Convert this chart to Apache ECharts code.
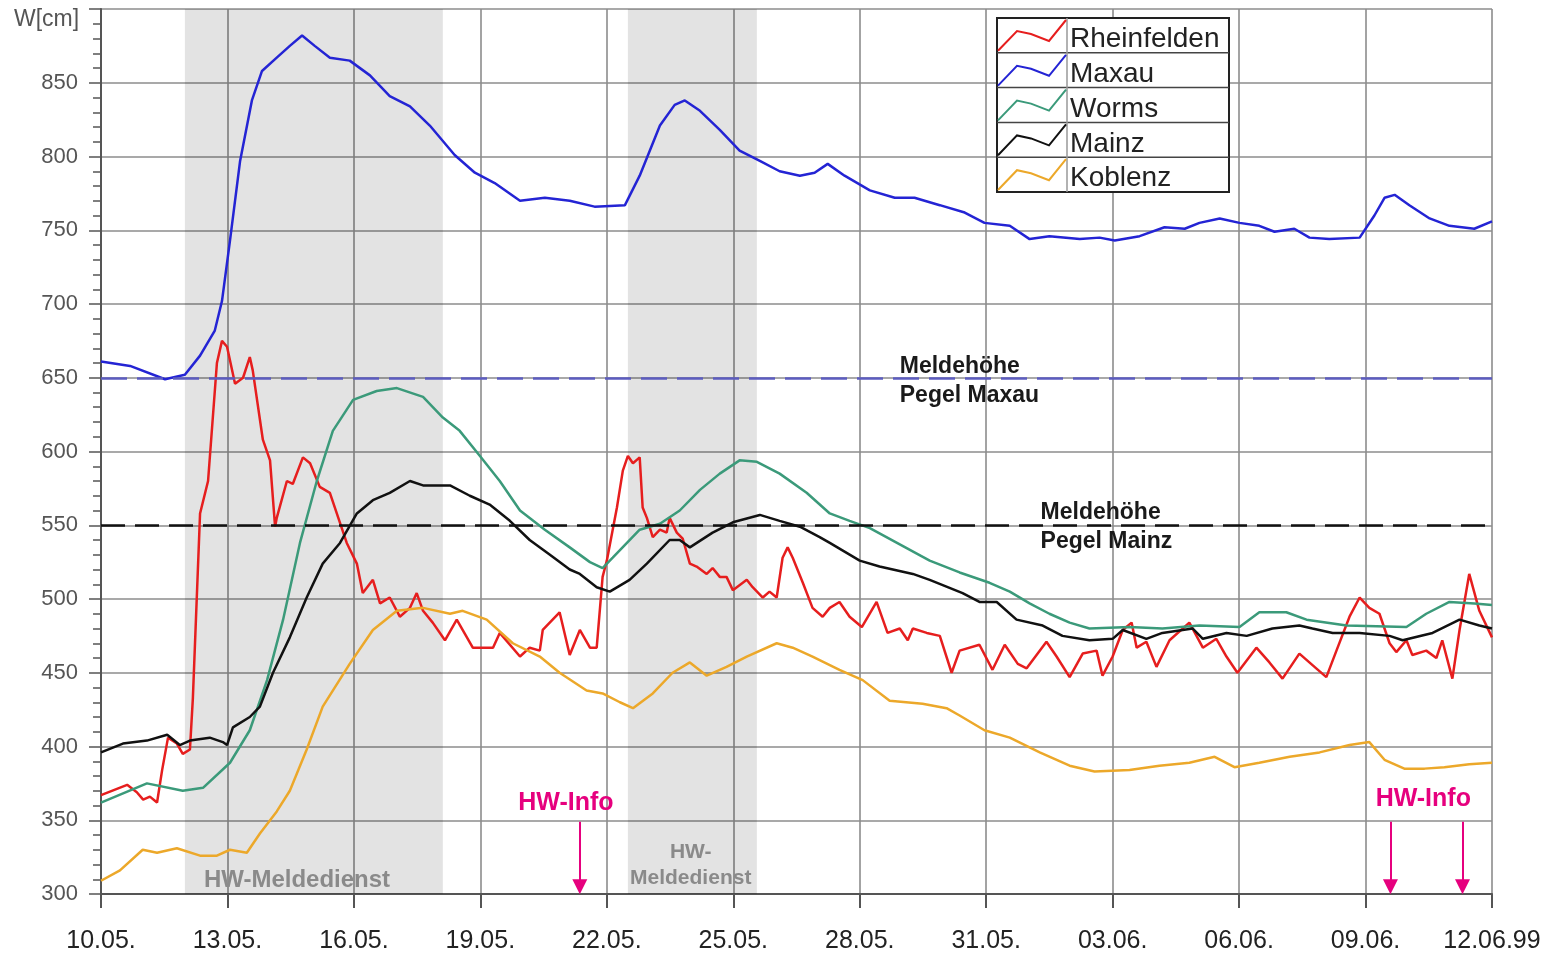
<!DOCTYPE html>
<html><head><meta charset="utf-8">
<script src="https://cdn.jsdelivr.net/npm/echarts@6/dist/echarts.min.js"></script>
<style>html,body{margin:0;padding:0;background:#fff}#c{width:1549px;height:960px}</style>
</head><body><div id="c"></div>
<script>
// ---------- data (x = days since 10.05.1999, y = W in cm) ----------
const xTickLabels = ['10.05.','13.05.','16.05.','19.05.','22.05.','25.05.','28.05.','31.05.','03.06.','06.06.','09.06.','12.06.99'];
const seriesNames = ['Rheinfelden','Maxau','Worms','Mainz','Koblenz'];

const rheinfelden = [[0,367],[0.62,374],[0.85,369],[1.00,364],[1.16,366],[1.33,362],[1.45,384],[1.59,406],[1.80,402],[1.94,395],[2.11,398],[2.18,433],[2.35,558],[2.54,580],[2.75,660],[2.87,675],[2.99,671],[3.18,646],[3.37,650],[3.53,664],[3.60,655],[3.84,608],[4.01,594],[4.13,549],[4.17,555],[4.41,580],[4.55,578],[4.79,596],[4.96,592],[5.19,576],[5.43,572],[5.83,538],[6.07,524],[6.21,504],[6.45,513],[6.62,497],[6.85,501],[7.09,488],[7.33,494],[7.49,504],[7.64,492],[7.87,484],[8.16,472],[8.44,486],[8.82,467],[9.30,467],[9.46,477],[9.94,461],[10.17,467],[10.41,465],[10.48,479],[10.88,491],[11.12,462],[11.36,479],[11.60,467],[11.76,467],[11.90,515],[12.00,526],[12.24,562],[12.38,587],[12.50,597],[12.62,592],[12.78,596],[12.85,562],[12.95,555],[13.09,542],[13.26,547],[13.42,545],[13.49,555],[13.66,545],[13.80,541],[13.97,524],[14.13,522],[14.37,517],[14.51,521],[14.68,515],[14.84,515],[14.99,506],[15.32,513],[15.46,508],[15.70,501],[15.86,505],[16.03,501],[16.17,528],[16.29,535],[16.41,528],[16.65,511],[16.88,494],[17.12,488],[17.29,494],[17.52,498],[17.76,488],[18.05,481],[18.40,498],[18.66,477],[18.95,480],[19.14,472],[19.26,480],[19.59,477],[19.90,475],[20.18,450],[20.37,465],[20.84,469],[21.15,452],[21.44,469],[21.75,456],[21.96,453],[22.43,471],[22.67,461],[22.98,447],[23.29,463],[23.62,465],[23.76,448],[24.00,461],[24.24,479],[24.45,484],[24.57,467],[24.80,471],[25.04,454],[25.35,472],[25.82,484],[26.14,467],[26.46,473],[26.70,461],[26.96,450],[27.41,467],[27.72,457],[28.03,446],[28.43,463],[28.83,453],[29.07,447],[29.31,465],[29.62,488],[29.86,501],[30.09,494],[30.33,490],[30.57,470],[30.73,464],[30.97,472],[31.11,462],[31.44,465],[31.68,460],[31.82,472],[32.06,446],[32.23,479],[32.46,517],[32.70,492],[33,474]];

const maxau = [[0,661],[0.69,658],[1.52,649],[1.99,652],[2.35,665],[2.70,682],[2.87,702],[3.06,743],[3.30,797],[3.58,838],[3.82,858],[4.13,866],[4.48,875],[4.77,882],[5.07,875],[5.43,867],[5.90,865],[6.38,855],[6.85,841],[7.33,834],[7.80,821],[8.39,801],[8.87,789],[9.34,782],[9.94,770],[10.53,772],[11.12,770],[11.71,766],[12.43,767],[12.78,787],[13.26,821],[13.61,835],[13.85,838],[14.21,831],[14.68,818],[15.15,804],[15.63,797],[16.10,790],[16.58,787],[16.93,789],[17.24,795],[17.64,787],[18.24,777],[18.83,772],[19.30,772],[19.90,767],[20.49,762],[20.96,755],[21.56,753],[22.03,744],[22.50,746],[23.22,744],[23.69,745],[24.05,743],[24.64,746],[25.23,752],[25.71,751],[26.06,755],[26.54,758],[27.01,755],[27.48,753],[27.84,749],[28.31,751],[28.67,745],[29.14,744],[29.86,745],[30.21,760],[30.45,772],[30.69,774],[31.04,767],[31.52,758],[31.99,753],[32.58,751],[33,756]];

const worms = [[0,362],[1.09,375],[1.94,370],[2.42,372],[3.06,389],[3.53,411],[3.94,445],[4.32,486],[4.72,538],[5.12,580],[5.50,614],[5.98,635],[6.54,641],[7.02,643],[7.64,637],[8.11,623],[8.51,614],[8.99,597],[9.46,580],[9.94,560],[10.53,547],[11.12,535],[11.60,525],[11.90,521],[12.14,528],[12.78,547],[13.26,551],[13.73,560],[14.21,574],[14.68,585],[15.15,594],[15.56,593],[16.10,585],[16.74,572],[17.29,558],[17.76,553],[18.24,548],[18.95,537],[19.66,526],[20.37,518],[21.08,511],[21.56,505],[22.03,497],[22.50,490],[22.98,484],[23.45,480],[24.40,481],[25.18,480],[26.06,482],[27.01,481],[27.48,491],[28.12,491],[28.60,486],[29.55,482],[30.97,481],[31.44,490],[31.99,498],[32.58,497],[33,496]];

const mainz = [[0,396],[0.52,402],[1.09,404],[1.57,408],[1.87,401],[2.11,404],[2.58,406],[2.89,403],[2.99,401],[3.13,413],[3.53,420],[3.77,427],[4.08,450],[4.48,474],[4.88,501],[5.26,524],[5.67,538],[6.07,558],[6.45,567],[6.85,572],[7.33,580],[7.64,577],[8.28,577],[8.75,570],[9.22,564],[9.70,553],[10.17,540],[10.65,530],[11.12,520],[11.36,517],[11.76,508],[12.07,505],[12.54,513],[12.95,524],[13.49,540],[13.73,540],[13.97,535],[14.51,545],[14.99,552],[15.63,557],[16.10,553],[16.58,549],[17.05,542],[17.29,538],[18.00,526],[18.47,522],[19.26,517],[19.66,513],[20.44,504],[20.84,498],[21.25,498],[21.72,486],[22.34,482],[22.81,475],[23.45,472],[24.00,473],[24.24,479],[24.80,473],[25.18,477],[25.90,480],[26.14,473],[26.70,477],[27.18,475],[27.79,480],[28.43,482],[28.74,480],[29.22,477],[29.86,477],[30.57,475],[30.88,472],[31.59,477],[32.23,486],[32.70,482],[33,480]];

const koblenz = [[0,309],[0.45,316],[0.99,330],[1.33,328],[1.80,331],[2.35,326],[2.75,326],[3.06,330],[3.46,328],[3.77,341],[4.17,356],[4.48,370],[4.88,398],[5.26,427],[5.90,456],[6.45,479],[7.02,492],[7.64,494],[8.28,490],[8.58,492],[9.15,486],[9.77,470],[10.41,461],[10.88,450],[11.52,438],[11.90,436],[12.31,430],[12.62,426],[13.09,436],[13.56,450],[13.97,457],[14.37,448],[14.84,454],[15.32,461],[16.03,470],[16.41,467],[16.88,461],[17.52,452],[18.07,445],[18.71,431],[19.49,429],[20.06,426],[20.37,421],[20.96,411],[21.56,406],[22.27,396],[22.98,387],[23.57,383],[24.40,384],[25.11,387],[25.82,389],[26.42,393],[26.89,386],[27.48,389],[28.20,393],[28.91,396],[29.62,401],[30.09,403],[30.45,391],[30.92,385],[31.40,385],[31.87,386],[32.46,388],[33,389]];

const meldeMaxau = 650;
const meldeMainz = 550;
const hwMeldedienstSpans = [[1.99, 8.11], [12.50, 15.56]];
const hwInfoDays = [11.36, 30.59, 32.30];
const annotations = [
  {text:'Meldehöhe\nPegel Maxau', day:18.95, value:648, kind:'melde'},
  {text:'Meldehöhe\nPegel Mainz', day:22.29, value:549, kind:'melde'},
  {text:'HW-Meldedienst', day:4.65, value:309.5, kind:'grey'},
  {text:'HW-\nMeldedienst', day:13.99, value:319.6, kind:'grey2'},
  {text:'HW-Info', day:11.03, value:361.6, kind:'info'},
  {text:'HW-Info', day:31.37, value:364, kind:'info'}
];

// ---------- styling ----------
const FONT = 'Liberation Sans, Arial, Helvetica, sans-serif';
const colors = ['#e61e1e','#2424d4','#3b9a7a','#111111','#eca82a'];
const seriesData = [rheinfelden, maxau, worms, mainz, koblenz];
const labelStyles = {
  melde: {position:'right', distance:0, align:'left', verticalAlign:'middle', fontSize:23, fontWeight:'bold', color:'#1a1a1a', lineHeight:29},
  grey:  {position:'inside', align:'center', verticalAlign:'middle', fontSize:24, fontWeight:'bold', color:'#8a8a8a'},
  grey2: {position:'inside', align:'center', verticalAlign:'middle', fontSize:21, fontWeight:'bold', color:'#8a8a8a', lineHeight:26},
  info:  {position:'inside', align:'center', verticalAlign:'middle', fontSize:25, fontWeight:'bold', color:'#e6007e'}
};

const chart = echarts.init(document.getElementById('c'), null, {renderer:'canvas'});

const series = [];
series.push({
  type:'line', name:'shade', data:[], z:1, silent:true,
  markArea:{silent:true, itemStyle:{color:'rgba(0,0,0,0.11)'},
    data: hwMeldedienstSpans.map(s => [{xAxis:s[0]},{xAxis:s[1]}])}
});
seriesNames.forEach((n,i) => {
  const s = {type:'line', name:n, data:seriesData[i], showSymbol:false, z:3,
    lineStyle:{color:colors[i], width:2.5}, itemStyle:{color:colors[i]}};
  if (n === 'Maxau') s.markLine = {silent:true, symbol:['none','none'], label:{show:false},
      lineStyle:{color:'#5c5cc0', width:2.5, type:[26,10]}, data:[{yAxis:meldeMaxau}]};
  if (n === 'Mainz') s.markLine = {silent:true, symbol:['none','none'], label:{show:false},
      lineStyle:{color:'#111', width:2.5, type:[24,10]}, data:[{yAxis:meldeMainz}]};
  series.push(s);
});
series.push({
  type:'scatter', name:'annot', symbolSize:0, z:5, silent:true,
  itemStyle:{opacity:1},
  data: annotations.map(a => ({value:[a.day, a.value],
    label:Object.assign({show:true, formatter:a.text, fontFamily:FONT, opacity:1}, labelStyles[a.kind])})),
  markLine:{silent:true, symbol:['none','triangle'], symbolSize:15, label:{show:false},
    lineStyle:{color:'#e6007e', width:2, type:'solid', opacity:1}, itemStyle:{color:'#e6007e'},
    data: hwInfoDays.map(d => [{coord:[d, 349]},{coord:[d, 305]}])}
});

const LX=997, LY=18, LW=232, RH=34.8, IW=70;
const graphic = [
  {type:'text', left:14, top:8, style:{text:'W[cm]', font:'23px '+FONT, fill:'#555'}},
  {type:'rect', z:100, shape:{x:LX,y:LY,width:LW,height:RH*5}, style:{fill:'#fff', stroke:'#222', lineWidth:2}}
];
for (let i=1;i<5;i++) graphic.push({type:'line', z:101, shape:{x1:LX,y1:LY+i*RH,x2:LX+LW,y2:LY+i*RH}, style:{stroke:'#444', lineWidth:1.5}});
graphic.push({type:'line', z:101, shape:{x1:LX+IW,y1:LY,x2:LX+IW,y2:LY+5*RH}, style:{stroke:'#999', lineWidth:1.5}});
seriesNames.forEach((n,i) => {
  const y0 = LY + i*RH;
  graphic.push({type:'polyline', z:102, shape:{points:[[LX+1,y0+RH-2],[LX+20,y0+13],[LX+34,y0+16],[LX+52,y0+23],[LX+IW-1,y0+2]]},
    style:{stroke:colors[i], lineWidth:2, fill:null}});
  graphic.push({type:'text', z:102, style:{text:n, x:LX+IW+3, y:y0+RH/2+4, align:'left', verticalAlign:'middle', font:'28px '+FONT, fill:'#222'}});
});

chart.setOption({
  animation:false,
  backgroundColor:'#fff',
  grid:{left:101, right:57, top:9, bottom:66},
  xAxis:{type:'value', min:0, max:33, interval:3,
    axisLine:{show:true, lineStyle:{color:'#555', width:2}},
    axisTick:{show:true, length:14, lineStyle:{color:'#555', width:2}},
    axisLabel:{margin:35, fontSize:25, color:'#222', fontFamily:FONT,
      formatter:v => xTickLabels[Math.round(v/3)] || ''},
    splitLine:{show:true, lineStyle:{color:'#8c8c8c', width:1.6}}},
  yAxis:{type:'value', min:300, max:900, interval:50,
    axisLine:{show:true, lineStyle:{color:'#555', width:2}},
    axisTick:{show:true, length:12, lineStyle:{color:'#555', width:1.5}},
    minorTick:{show:true, splitNumber:5, length:8, lineStyle:{color:'#555', width:1.5}},
    axisLabel:{margin:23, fontSize:22, color:'#555', fontFamily:FONT,
      formatter:v => v === 900 ? '' : String(v)},
    splitLine:{show:true, lineStyle:{color:'#8c8c8c', width:1.6}}},
  graphic: graphic,
  series: series
});
</script></body></html>
